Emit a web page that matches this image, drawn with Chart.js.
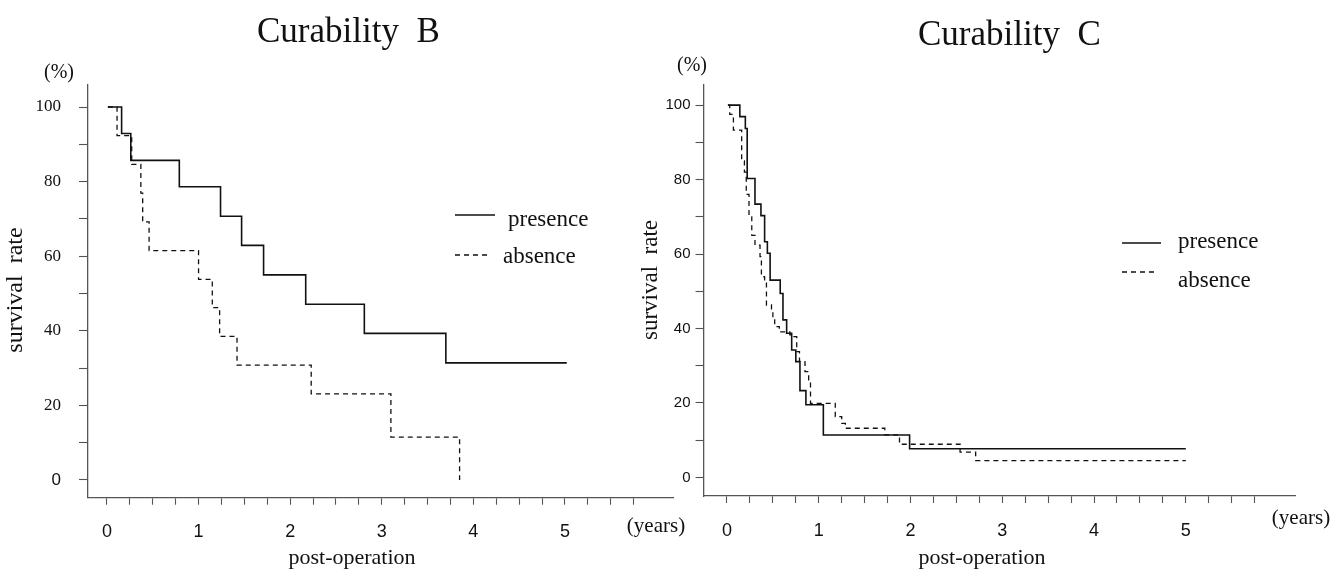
<!DOCTYPE html>
<html><head><meta charset="utf-8">
<script src="https://cdn.jsdelivr.net/npm/chart.js@4.4.1/dist/chart.umd.min.js"></script>
<style>
html,body{margin:0;padding:0;background:#fff;}
#wrap{position:relative;width:1338px;height:577px;overflow:hidden;}
canvas{position:absolute;left:0;top:0;}
</style>
</head><body>
<div id="wrap"><canvas id="cB" width="1338" height="577"></canvas><canvas id="cC" width="1338" height="577"></canvas></div>
<script>
// ---- Curability B (years, survival %) ----
const bPresenceTime = [0.01, 0.16, 0.26, 0.79, 1.24, 1.47, 1.71, 2.17, 2.81, 3.70, 5.02];
const bPresenceRate = [100, 92.9, 85.7, 78.6, 70.7, 62.9, 55.0, 47.1, 39.3, 31.4, 31.4];
const bAbsenceTime  = [0.01, 0.11, 0.27, 0.37, 0.39, 0.46, 1.00, 1.15, 1.23, 1.42, 2.23, 3.10, 3.85];
const bAbsenceRate  = [100, 92.3, 84.6, 76.9, 69.2, 61.5, 53.8, 46.2, 38.5, 30.8, 23.1, 11.5, 0];

// ---- Curability C ----
const cPresenceTime = [0.01, 0.14, 0.20, 0.22, 0.305, 0.37, 0.41, 0.44, 0.47, 0.58, 0.61, 0.65, 0.705, 0.75, 0.795, 0.86, 1.05, 1.99, 5.0];
const cPresenceRate = [100, 96.9, 93.7, 80.3, 73.4, 70.3, 63.3, 60.2, 53.0, 49.4, 42.3, 38.7, 34.2, 31.1, 23.3, 19.5, 11.4, 7.7, 7.7];
const cAbsenceTime  = [0.01, 0.03, 0.07, 0.16, 0.19, 0.21, 0.24, 0.27, 0.305, 0.36, 0.375, 0.41, 0.43, 0.485, 0.50, 0.52, 0.57, 0.685, 0.70, 0.76, 0.79, 0.85, 0.89, 0.91, 1.18, 1.25, 1.29, 1.72, 1.88, 2.54, 2.71, 5.0];
const cAbsenceRate  = [100, 97.5, 93.3, 85.0, 82.0, 76.0, 70.0, 65.0, 62.4, 59.3, 53.9, 52.6, 46.3, 44.5, 42.8, 40.5, 39.1, 38.3, 37.8, 33.8, 31.1, 28.4, 26.2, 19.9, 16.3, 14.5, 13.2, 11.4, 8.9, 6.8, 4.5, 4.5];

// ---- ticks & labels ----
const xMajorTicks = [0, 1, 2, 3, 4, 5];
const xMinorTicks = [0.25, 0.5, 0.75, 1.25, 1.5, 1.75, 2.25, 2.5, 2.75, 3.25, 3.5, 3.75, 4.25, 4.5, 4.75, 5.25, 5.5, 5.75];
const yMajorTicks = [0, 20, 40, 60, 80, 100];
const yMinorTicks = [10, 30, 50, 70, 90];
const seriesLabels = ['presence', 'absence'];

const SERIF = "'Liberation Serif', 'Times New Roman', serif";
const SANS = "'Liberation Sans', Arial, sans-serif";

function pts(t, v) { return t.map((x, i) => ({x: x, y: v[i]})); }

const annotPlugin = {
  id: 'annot',
  afterDraw(chart) {
    const o = chart.options.plugins.annot;
    if (!o) return;
    const ctx = chart.ctx;
    ctx.save();
    ctx.fillStyle = '#111';
    (o.texts || []).forEach(t => {
      ctx.save();
      ctx.font = t.font;
      ctx.textAlign = t.align || 'center';
      ctx.textBaseline = t.baseline || 'middle';
      ctx.translate(t.x, t.y);
      if (t.rot) ctx.rotate(t.rot);
      ctx.fillText(t.text, 0, 0);
      ctx.restore();
    });
    (o.legend || []).forEach((l, i) => {
      const ds = chart.data.datasets[i];
      ctx.save();
      ctx.strokeStyle = ds.borderColor;
      ctx.lineWidth = ds.borderWidth;
      ctx.setLineDash(ds.borderDash || []);
      ctx.beginPath();
      ctx.moveTo(l.x1, l.ly); ctx.lineTo(l.x2, l.ly); ctx.stroke();
      ctx.setLineDash([]);
      ctx.font = l.font;
      ctx.textAlign = 'left';
      ctx.textBaseline = 'alphabetic';
      ctx.fillText(ds.label, l.tx, l.ty);
      ctx.restore();
    });
    ctx.restore();
  }
};

function makeChart(id, cfg) {
  const xTicks = xMajorTicks.concat(xMinorTicks).sort((a, b) => a - b);
  const yTicks = yMajorTicks.concat(yMinorTicks).sort((a, b) => a - b);
  return new Chart(document.getElementById(id), {
    type: 'line',
    data: {
      datasets: [
        {label: seriesLabels[0], data: cfg.presence, borderColor: '#111', borderWidth: 1.6, stepped: true, pointRadius: 0, fill: false},
        {label: seriesLabels[1], data: cfg.absence, borderColor: '#111', borderWidth: 1.3, borderDash: [5, 4], stepped: true, pointRadius: 0, fill: false}
      ]
    },
    plugins: [annotPlugin],
    options: {
      responsive: false,
      animation: false,
      events: [],
      layout: {padding: cfg.padding},
      plugins: {
        legend: {display: false},
        tooltip: {enabled: false},
        title: {display: false},
        annot: cfg.annot
      },
      scales: {
        x: {
          type: 'linear', min: cfg.xMin, max: cfg.xMax,
          afterBuildTicks: s => { s.ticks = xTicks.map(v => ({value: v})); },
          afterFit: s => { s.height = 50; },
          border: {display: true, color: '#555', width: 1.3},
          grid: {display: true, drawOnChartArea: false, drawTicks: true, tickLength: 7, tickColor: '#555', tickWidth: 1.1},
          ticks: {
            autoSkip: false, maxRotation: 0, padding: cfg.xPad, color: '#111',
            font: {family: SANS, size: 18},
            callback: v => xMajorTicks.includes(v) ? String(v) : ''
          }
        },
        y: {
          type: 'linear', min: cfg.yMin, max: cfg.yMax,
          afterBuildTicks: s => { s.ticks = yTicks.map(v => ({value: v})); },
          afterFit: s => { s.width = cfg.yWidth; },
          border: {display: true, color: '#555', width: 1.3},
          grid: {display: true, drawOnChartArea: false, drawTicks: true, tickLength: cfg.yTickLen, tickColor: '#555', tickWidth: 1.1},
          ticks: {
            autoSkip: false, padding: cfg.yPad, color: '#111',
            font: c => (c.tick && c.tick.value === 0) ? {family: SANS, size: cfg.yFont} : {family: cfg.yFamily, size: cfg.yFont},
            callback: v => yMajorTicks.includes(v) ? String(v) : ''
          }
        }
      }
    }
  });
}

makeChart('cB', {
  presence: pts(bPresenceTime, bPresenceRate),
  absence: pts(bAbsenceTime, bAbsenceRate),
  padding: {left: 8, right: 665, top: 85, bottom: 29.3},
  yWidth: 80,
  xMin: -0.207, xMax: 6.18, yMin: -4.75, yMax: 105.9,
  xPad: 17, yPad: 18, yTickLen: 9, yFont: 17, yFamily: SERIF,
  annot: {
    texts: [
      {text: 'Curability  B', x: 257, y: 42, align: 'left', baseline: 'alphabetic', font: '35px ' + SERIF},
      {text: '(%)', x: 59, y: 73, font: '20px ' + SERIF},
      {text: 'survival  rate', x: 16, y: 290, rot: -Math.PI / 2, font: '24px ' + SERIF},
      {text: 'post-operation', x: 352, y: 558, font: '22px ' + SERIF},
      {text: '(years)', x: 656, y: 526, font: '21px ' + SERIF}
    ],
    legend: [
      {x1: 455, x2: 495, ly: 215, tx: 508, ty: 226, font: '23px ' + SERIF},
      {x1: 455, x2: 490, ly: 255, tx: 503, ty: 263, font: '23px ' + SERIF}
    ]
  }
});

makeChart('cC', {
  presence: pts(cPresenceTime, cPresenceRate),
  absence: pts(cAbsenceTime, cAbsenceRate),
  padding: {left: 643.5, right: 43, top: 85, bottom: 31},
  yWidth: 60,
  xMin: -0.256, xMax: 6.19, yMin: -5.0, yMax: 105.4,
  xPad: 17, yPad: 5, yTickLen: 8, yFont: 15, yFamily: SANS,
  annot: {
    texts: [
      {text: 'Curability  C', x: 918, y: 45, align: 'left', baseline: 'alphabetic', font: '35px ' + SERIF},
      {text: '(%)', x: 692, y: 66, font: '20px ' + SERIF},
      {text: 'survival  rate', x: 651, y: 280, rot: -Math.PI / 2, font: '23px ' + SERIF},
      {text: 'post-operation', x: 982, y: 558, font: '22px ' + SERIF},
      {text: '(years)', x: 1301, y: 518, font: '21px ' + SERIF}
    ],
    legend: [
      {x1: 1122, x2: 1161, ly: 243, tx: 1178, ty: 248, font: '23px ' + SERIF},
      {x1: 1122, x2: 1158, ly: 272, tx: 1178, ty: 287, font: '23px ' + SERIF}
    ]
  }
});
</script>
</body></html>
